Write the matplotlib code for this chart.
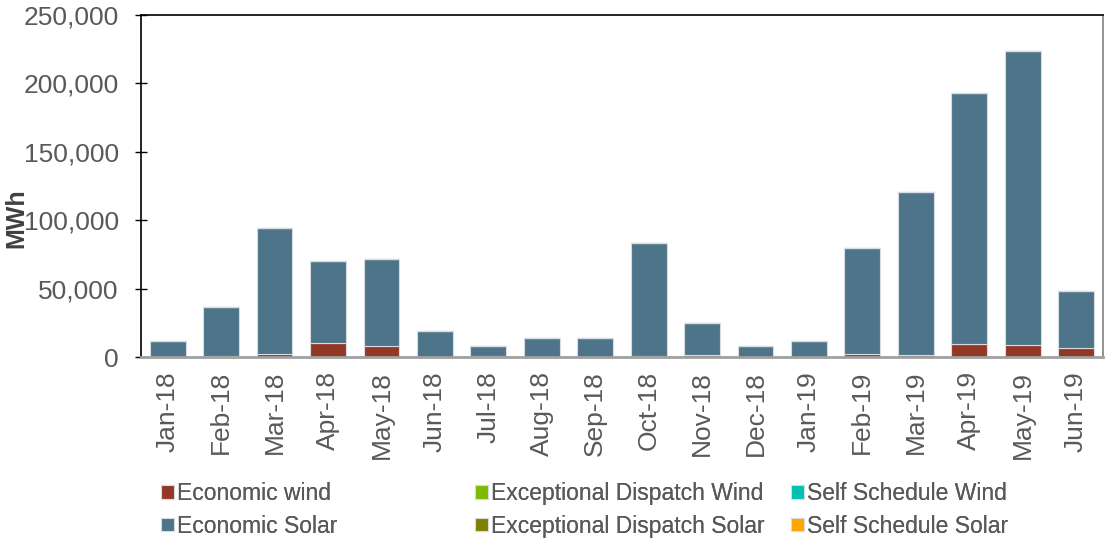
import numpy as np
import matplotlib
matplotlib.use("Agg")
import matplotlib.pyplot as plt

plt.rcParams['font.family'] = ['Liberation Sans', 'DejaVu Sans']

months = ['Jan-18', 'Feb-18', 'Mar-18', 'Apr-18', 'May-18', 'Jun-18', 'Jul-18',
          'Aug-18', 'Sep-18', 'Oct-18', 'Nov-18', 'Dec-18', 'Jan-19', 'Feb-19',
          'Mar-19', 'Apr-19', 'May-19', 'Jun-19']

# MWh
economic_wind = [0, 1000, 2200, 10000, 7800, 0, 700, 0, 0,
                 500, 1200, 0, 0, 2400, 1700, 9700, 8500, 6800]
economic_solar = [11700, 35500, 92100, 60200, 63800, 19000, 7300, 13900, 14000,
                  82800, 23600, 8000, 12000, 77300, 118900, 183300, 215200, 41400]
ed_wind = [0] * 18
ed_solar = [0] * 18
ss_wind = [0] * 18
ss_solar = [0] * 18

series = [
    ('Economic wind', economic_wind, '#943826'),
    ('Economic Solar', economic_solar, '#4E7489'),
    ('Exceptional Dispatch Wind', ed_wind, '#7FBA00'),
    ('Exceptional Dispatch Solar', ed_solar, '#7F7F00'),
    ('Self Schedule Wind', ss_wind, '#00C0B0'),
    ('Self Schedule Solar', ss_solar, '#FFA500'),
]

fig = plt.figure(figsize=(11.05, 5.38), dpi=100)
ax = fig.add_axes([0.1276, 0.3364, 0.8704, 0.6356])

x = np.arange(len(months))
bottom = np.zeros(len(months))
handles = {}
for name, vals, color in series:
    vals = np.array(vals, dtype=float)
    bars = ax.bar(x, vals, width=0.67, bottom=bottom, color=color,
                  edgecolor='#d5dde3', linewidth=0.8, label=name, zorder=2)
    handles[name] = bars
    bottom += vals

ax.set_xlim(-0.5, len(months) - 0.5)
ax.set_ylim(0, 250000)
ax.set_yticks(np.arange(0, 250001, 50000))
ax.yaxis.set_major_formatter(matplotlib.ticker.FuncFormatter(lambda v, p: f'{int(v):,}'))
ax.set_xticks(x)
ax.set_xticklabels(months, rotation=90)

ax.tick_params(axis='y', direction='inout', length=8, width=1, colors='black',
               labelcolor='#595959', labelsize=19, pad=12)
ax.tick_params(axis='x', length=0, labelcolor='#595959', labelsize=19, pad=10)

for side in ['left', 'top']:
    ax.spines[side].set_color('black')
    ax.spines[side].set_linewidth(1.2)
ax.spines['bottom'].set_color('#a0a0a0')
ax.spines['bottom'].set_linewidth(2)
ax.spines['right'].set_color('#808080')
ax.spines['right'].set_linewidth(1.2)

fig.text(0.015, 0.595, 'MWh', rotation=90, ha='center', va='center',
         fontsize=18, fontweight='bold', color='#404040')

# legend laid out as three columns, like the original grid
columns = [
    (0.146, ['Economic wind', 'Economic Solar']),
    (0.43, ['Exceptional Dispatch Wind', 'Exceptional Dispatch Solar']),
    (0.716, ['Self Schedule Wind', 'Self Schedule Solar']),
]
for xpos, names in columns:
    leg = fig.legend([handles[n] for n in names], names, loc='upper left',
                     bbox_to_anchor=(xpos, 0.104), frameon=False,
                     fontsize=16.5, handlelength=0.55, handleheight=0.55,
                     handletextpad=0.15, labelspacing=0.42, borderpad=0,
                     borderaxespad=0)
    for t in leg.get_texts():
        t.set_color('#595959')
    fig.add_artist(leg)

fig.savefig('out.png', dpi=100)
